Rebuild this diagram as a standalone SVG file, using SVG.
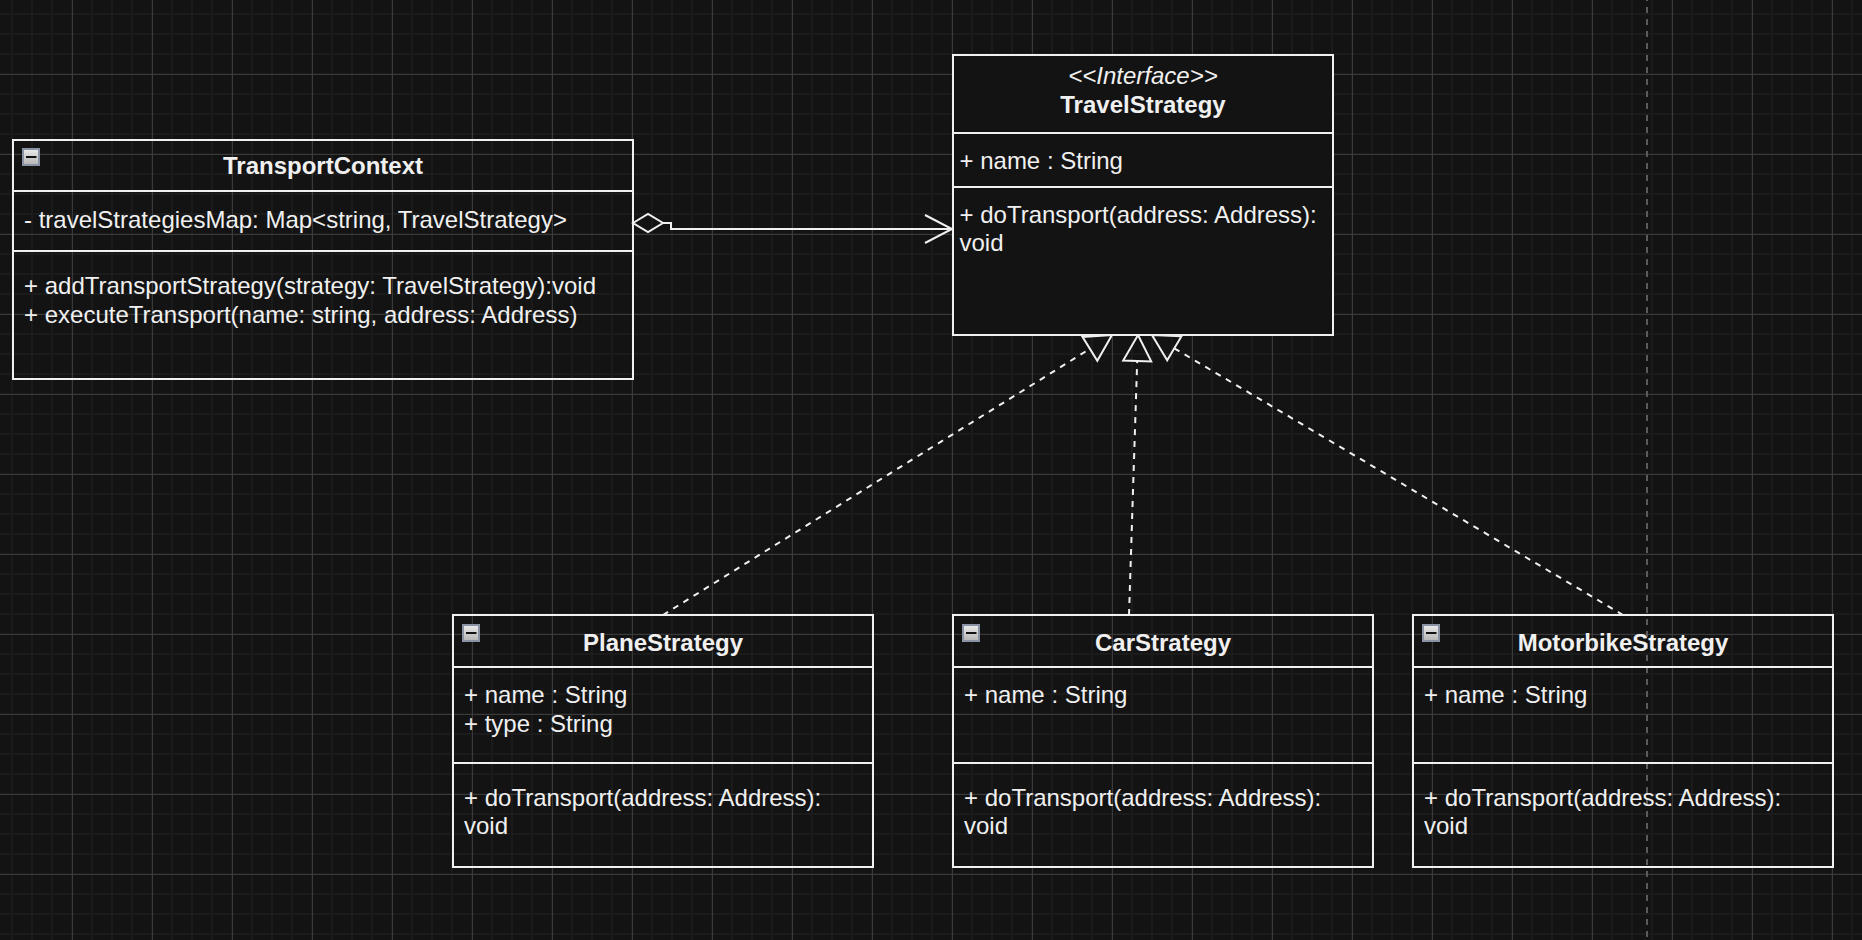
<svg xmlns="http://www.w3.org/2000/svg" width="1862" height="940" viewBox="0 0 1862 940">
<style>
  .t { font-family: "Liberation Sans", Arial, Helvetica, sans-serif; font-size: 24px; fill: #f0f0f0; }
  .b { font-weight: bold; }
  .i { font-style: italic; }
  .c { text-anchor: middle; }
  .box { fill: none; stroke: #f0f0f0; stroke-width: 2; }
  .fbox { fill: #131313; stroke: #f0f0f0; stroke-width: 2; }
  .div { stroke: #f0f0f0; stroke-width: 2; fill: none; }
  .edge { fill: none; stroke: #f0f0f0; stroke-width: 2; }
  .dash { stroke-dasharray: 6 6; }
</style>
<defs>
  <pattern id="minor" patternUnits="userSpaceOnUse" x="2" y="4" width="20" height="20">
    <rect x="9" y="0" width="2" height="20" fill="#1b1b1b"/>
    <rect x="0" y="9" width="20" height="2" fill="#1b1b1b"/>
  </pattern>
  <pattern id="major" patternUnits="userSpaceOnUse" x="32" y="34" width="80" height="80">
    <rect x="40" y="0" width="1" height="80" fill="#3a3a3a"/>
    <rect x="0" y="40" width="80" height="1" fill="#3a3a3a"/>
  </pattern>
  <linearGradient id="iconGrad" x1="0" y1="0" x2="0" y2="1">
    <stop offset="0" stop-color="#ececec"/>
    <stop offset="1" stop-color="#b4b4b4"/>
  </linearGradient>
  <g id="collapse">
    <rect x="1" y="1" width="16" height="16" fill="url(#iconGrad)" stroke="#8a93a6" stroke-width="2"/>
    <rect x="4" y="8" width="10.5" height="2" fill="#111111"/>
  </g>
</defs>

<g id="background">
  <rect x="0" y="0" width="1862" height="940" fill="#131313"/>
  <rect x="0" y="0" width="1862" height="940" fill="url(#minor)"/>
  <rect x="0" y="0" width="1862" height="940" fill="url(#major)"/>
  <line x1="1647" y1="0" x2="1647" y2="940" stroke="#5a5a5a" stroke-width="2" stroke-dasharray="6 6" stroke-dashoffset="5"/>
</g>

<g id="connectors">
  <g id="edge-aggregation">
    <polygon class="edge" points="633,223 648,214 663,223 648,232"/>
    <polyline class="edge" points="663,223 671,223 671,229 952,229"/>
    <polyline class="edge" points="925,215 952,229 925,243"/>
  </g>
  <g id="edge-plane">
    <line class="edge dash" x1="663" y1="615" x2="1089.9" y2="348.8"/>
    <polygon class="edge" points="1112,335 1097.3,360.7 1082.5,336.9"/>
  </g>
  <g id="edge-car">
    <line class="edge dash" x1="1129" y1="615" x2="1137.2" y2="361"/>
    <polygon class="edge" points="1138,335 1151.2,361.4 1123.2,360.6"/>
  </g>
  <g id="edge-motorbike">
    <line class="edge dash" x1="1623" y1="615" x2="1174.3" y2="348.3"/>
    <polygon class="edge" points="1152,335 1181.5,336.3 1167.2,360.3"/>
  </g>
</g>

<g id="node-transportcontext">
  <rect class="box" x="13" y="140" width="620" height="239"/>
  <line class="div" x1="13" y1="191" x2="633" y2="191"/>
  <line class="div" x1="13" y1="251" x2="633" y2="251"/>
  <use href="#collapse" x="22" y="148"/>
  <text class="t b c" x="323" y="174">TransportContext</text>
  <text class="t" x="24" y="228">- travelStrategiesMap: Map&lt;string, TravelStrategy&gt;</text>
  <text class="t" x="24" y="294">+ addTransportStrategy(strategy: TravelStrategy):void</text>
  <text class="t" x="24" y="323">+ executeTransport(name: string, address: Address)</text>
</g>

<g id="node-travelstrategy">
  <rect class="fbox" x="953" y="55" width="380" height="280"/>
  <line class="div" x1="953" y1="133" x2="1333" y2="133"/>
  <line class="div" x1="953" y1="187" x2="1333" y2="187"/>
  <text class="t i c" x="1143" y="84">&lt;&lt;Interface&gt;&gt;</text>
  <text class="t b c" x="1143" y="113">TravelStrategy</text>
  <text class="t" x="959.5" y="169">+ name : String</text>
  <text class="t" x="959.5" y="223">+ doTransport(address: Address):</text>
  <text class="t" x="959.5" y="251">void</text>
</g>

<g id="node-planestrategy">
  <rect class="box" x="453" y="615" width="420" height="252"/>
  <line class="div" x1="453" y1="667" x2="873" y2="667"/>
  <line class="div" x1="453" y1="763" x2="873" y2="763"/>
  <use href="#collapse" x="462" y="624"/>
  <text class="t b c" x="663" y="651">PlaneStrategy</text>
  <text class="t" x="464" y="703">+ name : String</text>
  <text class="t" x="464" y="732">+ type : String</text>
  <text class="t" x="464" y="806">+ doTransport(address: Address):</text>
  <text class="t" x="464" y="834">void</text>
</g>

<g id="node-carstrategy">
  <rect class="box" x="953" y="615" width="420" height="252"/>
  <line class="div" x1="953" y1="667" x2="1373" y2="667"/>
  <line class="div" x1="953" y1="763" x2="1373" y2="763"/>
  <use href="#collapse" x="962" y="624"/>
  <text class="t b c" x="1163" y="651">CarStrategy</text>
  <text class="t" x="964" y="703">+ name : String</text>
  <text class="t" x="964" y="806">+ doTransport(address: Address):</text>
  <text class="t" x="964" y="834">void</text>
</g>

<g id="node-motorbikestrategy">
  <rect class="box" x="1413" y="615" width="420" height="252"/>
  <line class="div" x1="1413" y1="667" x2="1833" y2="667"/>
  <line class="div" x1="1413" y1="763" x2="1833" y2="763"/>
  <use href="#collapse" x="1422" y="624"/>
  <text class="t b c" x="1623" y="651">MotorbikeStrategy</text>
  <text class="t" x="1424" y="703">+ name : String</text>
  <text class="t" x="1424" y="806">+ doTransport(address: Address):</text>
  <text class="t" x="1424" y="834">void</text>
</g>
</svg>
